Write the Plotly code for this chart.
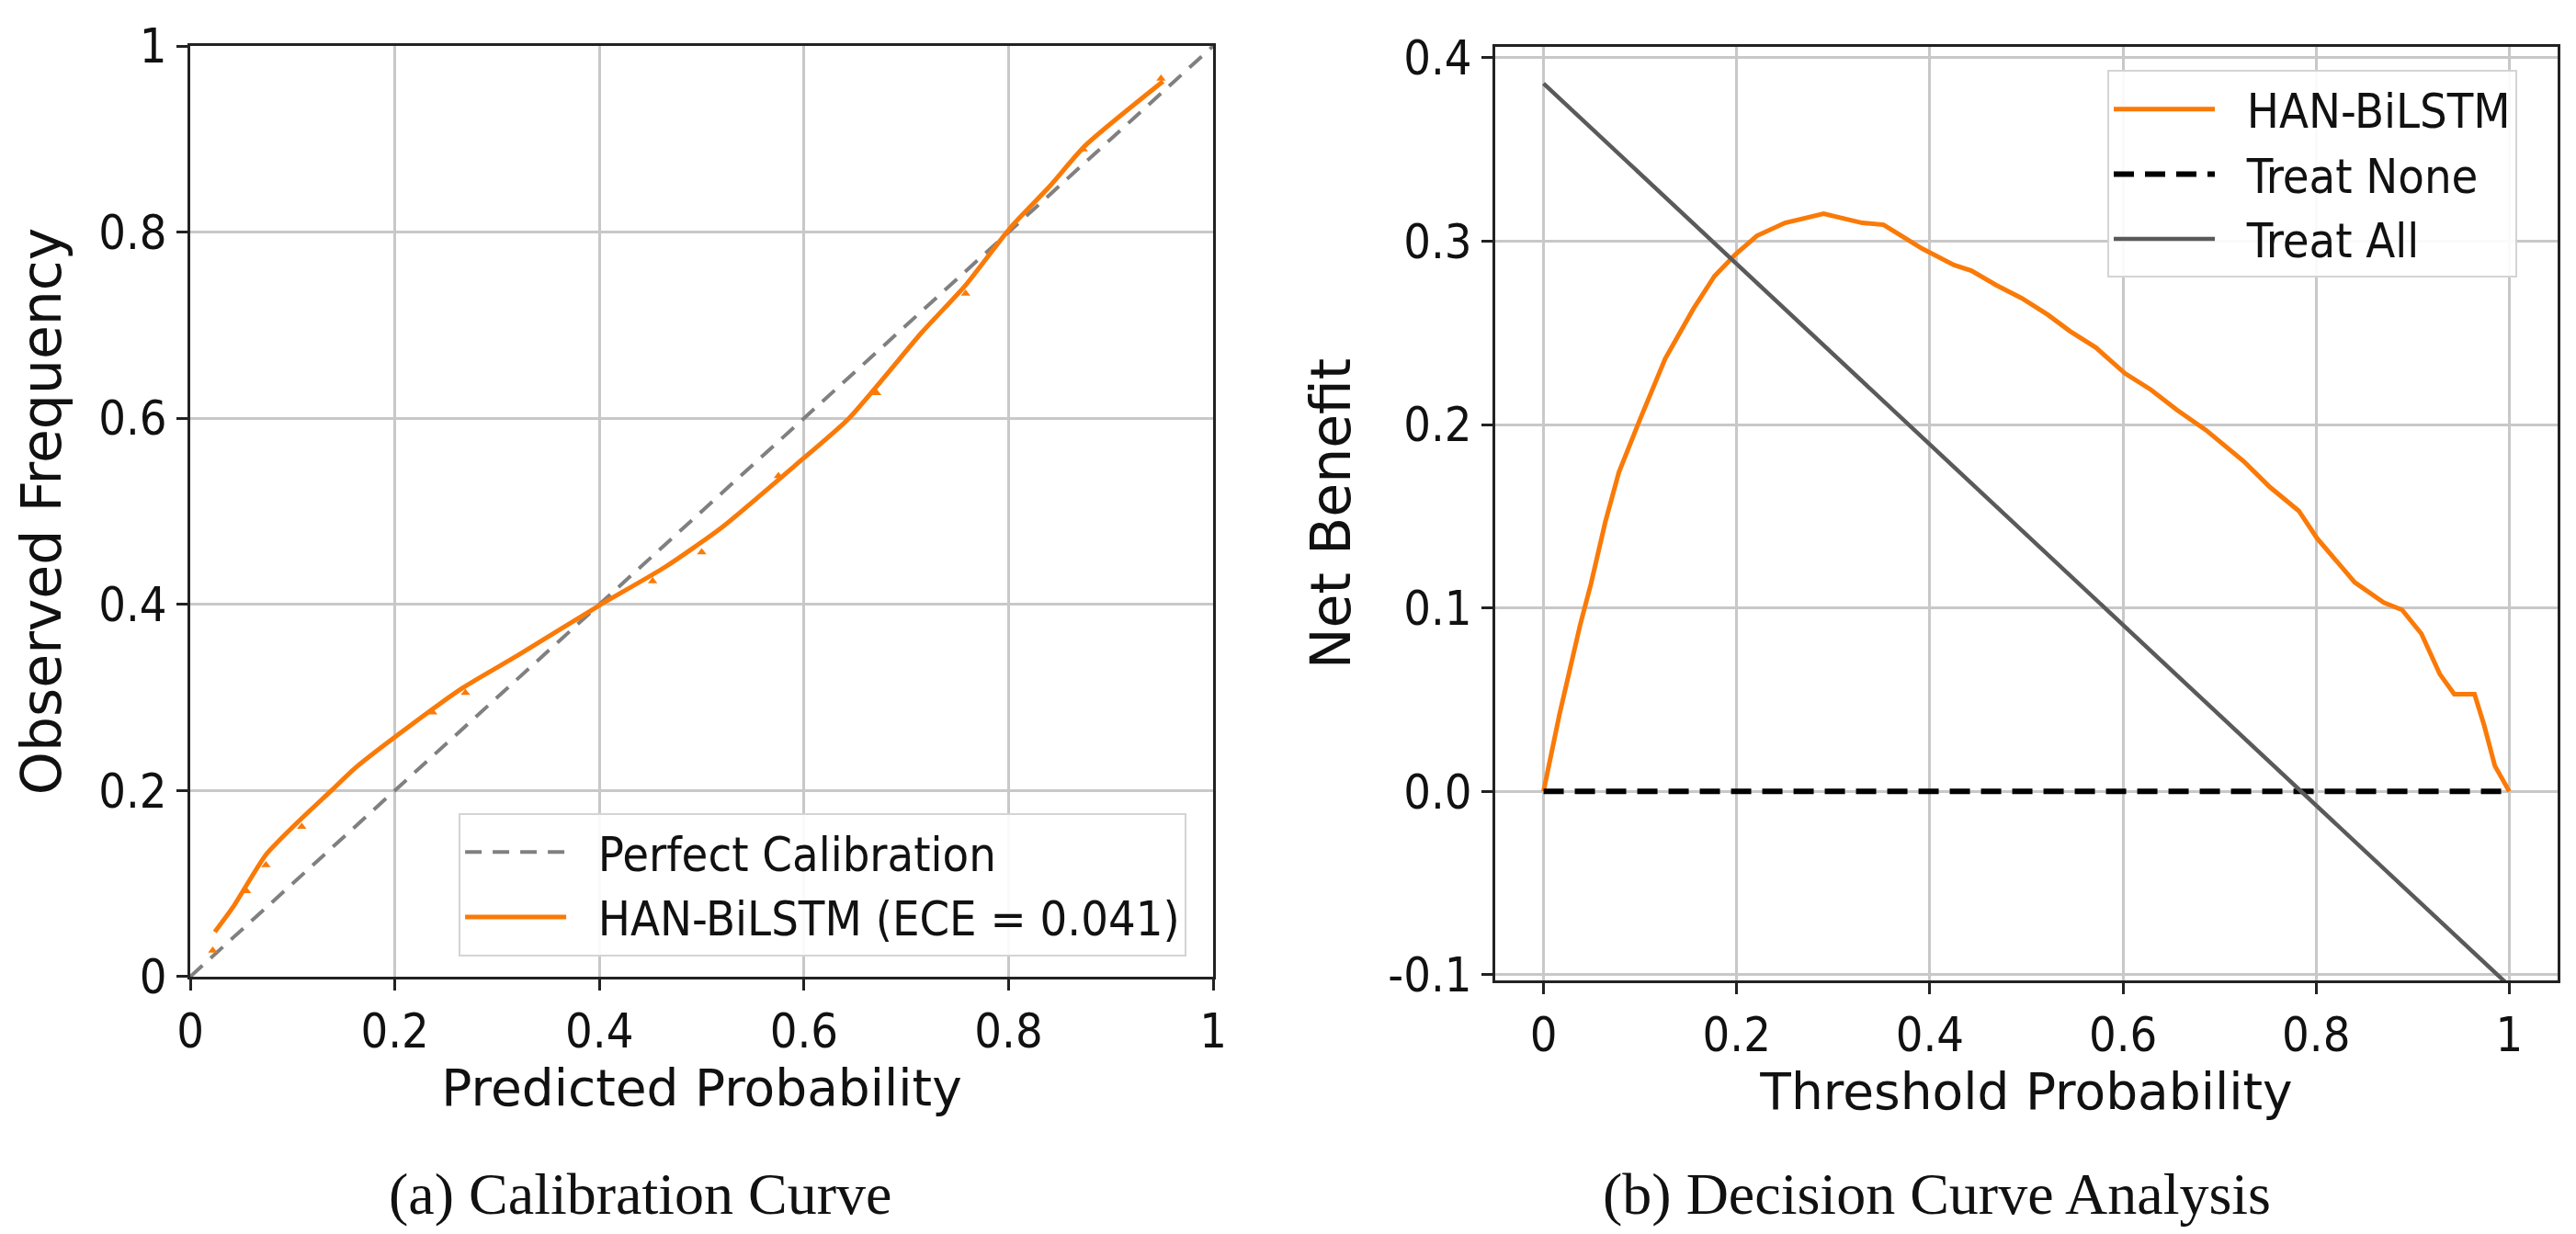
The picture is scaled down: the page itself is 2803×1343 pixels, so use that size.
import plotly.graph_objects as go
from plotly.subplots import make_subplots

# %%
# (a) calibration curve
cal_x = [0.024, 0.042, 0.074, 0.106, 0.138, 0.160, 0.202, 0.266, 0.320, 0.400,
         0.464, 0.520, 0.591, 0.644, 0.715, 0.758, 0.802, 0.840, 0.875, 0.951]
cal_y = [0.048, 0.075, 0.131, 0.167, 0.200, 0.223, 0.259, 0.310, 0.345, 0.399,
         0.440, 0.483, 0.549, 0.600, 0.692, 0.743, 0.805, 0.849, 0.893, 0.962]
bin_x = [0.022, 0.055, 0.074, 0.109, 0.237, 0.269, 0.452, 0.500, 0.575, 0.671, 0.758, 0.873, 0.949]
bin_y = [0.028, 0.092, 0.120, 0.161, 0.284, 0.305, 0.425, 0.456, 0.538, 0.627, 0.734, 0.889, 0.965]
perfect_x = [0, 1]
perfect_y = [0, 1]

# (b) decision curve
dca_x = [0, 0.0165, 0.038, 0.049, 0.064, 0.078, 0.100, 0.126, 0.155, 0.177, 0.199,
         0.221, 0.250, 0.290, 0.330, 0.352, 0.392, 0.425, 0.443, 0.469, 0.495,
         0.522, 0.545, 0.572, 0.602, 0.629, 0.656, 0.686, 0.725, 0.752, 0.782,
         0.801, 0.840, 0.870, 0.889, 0.909, 0.928, 0.943, 0.964, 0.974, 0.985, 1.0]
dca_y = [0, 0.042, 0.091, 0.113, 0.147, 0.174, 0.203, 0.236, 0.263, 0.281, 0.293,
         0.303, 0.310, 0.315, 0.310, 0.309, 0.296, 0.287, 0.284, 0.276, 0.269,
         0.260, 0.251, 0.242, 0.228, 0.219, 0.208, 0.197, 0.180, 0.166, 0.153,
         0.138, 0.114, 0.103, 0.099, 0.086, 0.064, 0.053, 0.053, 0.036, 0.014, 0.0]
none_x = [0, 1]
none_y = [0, 0]
all_x = [0, 1]
all_y = [0.386, -0.106]

# tick labels
prob_ticks = [0, 0.2, 0.4, 0.6, 0.8, 1]
prob_labels = ["0", "0.2", "0.4", "0.6", "0.8", "1"]
nb_ticks = [-0.1, 0, 0.1, 0.2, 0.3, 0.4]
nb_labels = ["-0.1", "0.0", "0.1", "0.2", "0.3", "0.4"]

ORANGE = "#fa7a08"
FONT = "DejaVu Sans"
NARROW = "DejaVu Sans Condensed, DejaVu Sans"
GAP = "\u00a0\u00a0"  # matplotlib leaves a wider gap between handle and label

# %%
fig = make_subplots(rows=1, cols=2)

fig.add_trace(go.Scatter(x=perfect_x, y=perfect_y, mode="lines", name=GAP + "Perfect Calibration",
                         line=dict(color="#808080", width=4, dash="18px,12px"),
                         legend="legend"), row=1, col=1)
fig.add_trace(go.Scatter(x=cal_x, y=cal_y, mode="lines", name=GAP + "HAN-BiLSTM (ECE = 0.041)",
                         line=dict(color=ORANGE, width=5, shape="spline", smoothing=0.6),
                         legend="legend"), row=1, col=1)
fig.add_trace(go.Scatter(x=bin_x, y=bin_y, mode="markers", showlegend=False,
                         marker=dict(symbol="triangle-up", size=9, color=ORANGE)),
              row=1, col=1)

fig.add_trace(go.Scatter(x=dca_x, y=dca_y, mode="lines", name=GAP + "HAN-BiLSTM",
                         line=dict(color=ORANGE, width=5), legend="legend2"), row=1, col=2)
fig.add_trace(go.Scatter(x=none_x, y=none_y, mode="lines", name=GAP + "Treat None",
                         line=dict(color="black", width=6, dash="22px,12px"),
                         legend="legend2"), row=1, col=2)
fig.add_trace(go.Scatter(x=all_x, y=all_y, mode="lines", name=GAP + "Treat All",
                         line=dict(color="#5a5a5a", width=4.5), legend="legend2"),
              row=1, col=2)

axis_common = dict(showline=True, linecolor="#222222", linewidth=3, mirror=True,
                   showgrid=True, gridcolor="#c8c8c8", gridwidth=3, zeroline=False,
                   ticks="outside", ticklen=12, tickwidth=3, tickcolor="#222222",
                   automargin=False,
                   tickfont=dict(family=NARROW, size=52, color="#111111"))
xtitle_font = dict(family=FONT, size=55, color="#111111")
ytitle_font = dict(family=FONT, size=60, color="#111111")

fig.update_xaxes(axis_common, row=1, col=1, domain=[0.0710, 0.4681], range=[0, 1],
                 tickvals=prob_ticks, ticktext=prob_labels,
                 title=dict(text="Predicted Probability", standoff=14, font=xtitle_font))
fig.update_yaxes(axis_common, row=1, col=1, domain=[0.2145, 0.9687], range=[0, 1],
                 tickvals=prob_ticks, ticktext=prob_labels,
                 title=dict(text="Observed Frequency", standoff=22, font=ytitle_font))
fig.update_xaxes(axis_common, row=1, col=2, domain=[0.5776, 0.9900], range=[-0.05, 1.05],
                 tickvals=prob_ticks, ticktext=prob_labels,
                 title=dict(text="Threshold Probability", standoff=14, font=xtitle_font))
fig.update_yaxes(axis_common, row=1, col=2, domain=[0.2115, 0.9680], range=[-0.103, 0.406],
                 tickvals=nb_ticks, ticktext=nb_labels,
                 title=dict(text="Net Benefit", standoff=22, font=ytitle_font))

legend_common = dict(bgcolor="rgba(255,255,255,0.9)", bordercolor="#d4d4d4", borderwidth=2,
                     font=dict(family=NARROW, size=52, color="#111111"),
                     itemwidth=110, xanchor="left", yanchor="top")

fig.update_layout(
    width=2803, height=1343,
    margin=dict(l=0, r=0, t=0, b=0),
    paper_bgcolor="white", plot_bgcolor="white",
    legend=dict(legend_common, x=0.1752, y=0.347),
    legend2=dict(legend_common, x=0.8152, y=0.949),
)

caption_font = dict(family="Liberation Serif", size=64, color="#111111")
fig.add_annotation(text="(a) Calibration Curve", xref="paper", yref="paper",
                   x=0.2455, y=0.038, xanchor="center", yanchor="middle",
                   showarrow=False, font=caption_font)
fig.add_annotation(text="(b) Decision Curve Analysis", xref="paper", yref="paper",
                   x=0.749, y=0.038, xanchor="center", yanchor="middle",
                   showarrow=False, font=caption_font)

fig.write_html("out.html")
